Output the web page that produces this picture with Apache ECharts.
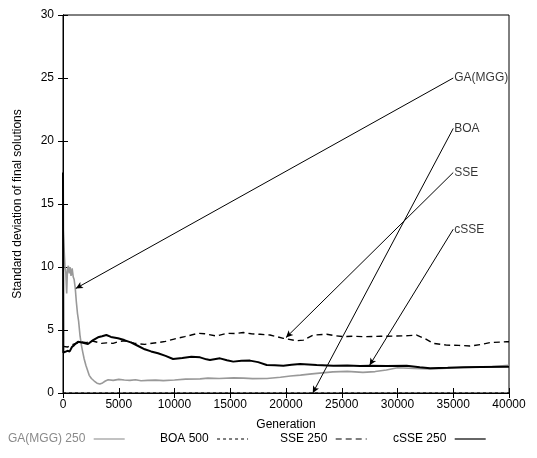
<!DOCTYPE html>
<html>
<head>
<meta charset="utf-8">
<script src="https://cdn.jsdelivr.net/npm/echarts@6/dist/echarts.min.js"></script>
<style>
html, body { margin: 0; padding: 0; background: #fff; }
#chart { width: 537px; height: 458px; }
</style>
</head>
<body>
<div id="chart"></div>
<script>
var seriesNames = ['GA(MGG) 250', 'BOA 500', 'SSE 250', 'cSSE 250'];

// [generation, std. deviation]
var gaData = [[0,13.3],[60,12.2],[120,11.0],[180,10.0],[250,9.6],[330,7.9],[400,9.8],[480,10.1],[560,9.5],[630,10.0],[720,9.3],[820,9.9],[920,9.2],[1000,9.0],
  [1100,8.3],[1200,7.2],[1300,6.3],[1400,5.7],[1520,4.6],[1650,3.8],[1780,3.2],[1900,2.7],[2050,2.2],[2200,1.8],[2350,1.4],[2550,1.15],[2800,0.95],
  [3050,0.78],[3300,0.72],[3550,0.8],[3800,0.95],[4050,1.05],[4500,1.0],[5000,1.08],[5500,1.03],[6000,1.0],[6500,1.05],[7000,0.97],[7600,1.0],
  [8300,1.02],[9000,0.98],[10000,1.03],[11000,1.1],[12300,1.12],[13000,1.18],[14000,1.15],[15300,1.2],[16200,1.18],[17000,1.14],[18300,1.15],
  [19500,1.25],[20400,1.35],[21300,1.42],[22100,1.5],[23000,1.58],[24200,1.68],[25500,1.72],[26900,1.64],[28000,1.7],[29000,1.83],[30000,2.0],
  [31500,1.95],[32900,1.9],[34000,1.95],[35300,2.0],[37000,2.05],[38500,2.1],[40000,2.2]];

var boaData = [[0,0],[10000,0],[20000,0],[30000,0],[40000,0]];

var sseData = [[0,3.7],[400,3.65],[750,3.8],[1200,3.95],[1645,4.07],[2100,4.0],[2540,4.15],[3000,4.05],[3440,3.94],[3900,3.98],[4490,3.94],
  [4930,4.07],[5530,4.15],[6000,4.05],[6430,3.94],[7330,3.86],[8000,3.95],[8520,4.0],[9200,4.1],[9870,4.26],[10910,4.47],[11500,4.6],
  [12110,4.74],[12700,4.7],[13780,4.52],[14680,4.74],[15400,4.72],[16170,4.8],[16900,4.7],[17670,4.66],[18570,4.6],[19760,4.34],
  [20960,4.15],[21560,4.2],[22450,4.6],[23650,4.66],[24400,4.55],[25140,4.47],[26000,4.5],[26930,4.47],[28500,4.5],[29930,4.52],
  [31000,4.55],[31720,4.6],[32500,4.3],[33210,3.94],[34400,3.8],[35500,3.78],[36500,3.73],[37500,3.85],[38300,4.0],[39800,4.07],[40000,4.07]];

var csseData = [[0,17.5],[30,3.2],[200,3.1],[400,3.35],[600,3.3],[800,3.65],[1000,3.8],[1345,4.07],[1700,4.0],[2240,3.89],[2700,4.2],
  [3140,4.42],[3500,4.5],[3890,4.6],[4300,4.45],[4930,4.34],[5500,4.2],[6130,4.0],[6700,3.75],[7330,3.47],[7900,3.3],[8520,3.15],
  [9200,2.95],[9870,2.7],[10700,2.78],[11510,2.88],[12290,2.83],[12860,2.67],[13180,2.62],[14080,2.75],[14700,2.6],[15270,2.49],
  [16000,2.55],[16770,2.57],[17500,2.45],[18270,2.22],[19000,2.2],[19760,2.17],[20500,2.25],[21260,2.3],[22750,2.22],[24240,2.17],
  [25500,2.18],[26640,2.14],[27530,2.17],[29000,2.15],[30820,2.17],[32000,2.05],[32920,1.96],[34500,2.0],[35900,2.04],[37500,2.06],[40000,2.09]];

// annotation labels and arrows: [label x, label y] -> [target x, target y]
var annoLabels = ['GA(MGG)', 'BOA', 'SSE', 'cSSE'];
var annoFrom = [[35000,25],[35000,21],[35000,17.5],[35000,13]];
var annoTo = [[1150,8.3],[22400,0],[20000,4.4],[27500,2.2]];

var xTicks = { min: 0, max: 40000, interval: 5000 };
var yTicks = { min: 0, max: 30, interval: 5 };

var font = "'Liberation Sans', Arial, Helvetica, sans-serif";
var chart = echarts.init(document.getElementById('chart'));

function legendFor(name, left, textColor) {
    return {
        data: [name],
        left: left,
        top: 433,
        padding: 0,
        align: 'right',
        itemWidth: 31,
        itemHeight: 10,
        itemStyle: { opacity: 0 },
        lineStyle: { width: 1.2 },
        textStyle: { color: textColor, fontSize: 12, fontFamily: font },
        formatter: function (n) { return n + ' '; },
        selectedMode: false
    };
}

var arrowData = annoFrom.map(function (p, i) {
    return [{ coord: p }, { coord: annoTo[i] }];
});
var labelData = annoFrom.map(function (p, i) {
    return { value: p, name: annoLabels[i] };
});

chart.setOption({
    animation: false,
    legend: [
        legendFor(seriesNames[0], 8, '#8a8a8a'),
        legendFor(seriesNames[1], 160, '#000'),
        legendFor(seriesNames[2], 280, '#000'),
        legendFor(seriesNames[3], 393, '#000')
    ],
    grid: { left: 63, right: 28, top: 15, bottom: 65, show: true, borderColor: '#000', borderWidth: 1 },
    xAxis: [{
        type: 'value', min: xTicks.min, max: xTicks.max, interval: xTicks.interval,
        name: 'Generation', nameLocation: 'middle', nameGap: 26,
        nameTextStyle: { color: '#000', fontSize: 12, fontFamily: font },
        axisLine: { lineStyle: { color: '#000' } },
        axisTick: { inside: true, length: 5, lineStyle: { color: '#000' } },
        axisLabel: { color: '#000', fontSize: 12, fontFamily: font, margin: 6,
            formatter: function (v) { return String(v); } },
        splitLine: { show: false }
    }, {
        type: 'value', position: 'top', min: xTicks.min, max: xTicks.max, interval: xTicks.interval,
        axisLine: { lineStyle: { color: '#000' } },
        axisTick: { inside: true, length: 5, lineStyle: { color: '#000' } },
        axisLabel: { show: false }, splitLine: { show: false }
    }],
    yAxis: [{
        type: 'value', min: yTicks.min, max: yTicks.max, interval: yTicks.interval,
        name: 'Standard deviation of final solutions', nameLocation: 'middle', nameGap: 39,
        nameTextStyle: { color: '#000', fontSize: 12, fontFamily: font },
        axisLine: { show: true, lineStyle: { color: '#000' } },
        axisTick: { show: true, inside: true, length: 5, lineStyle: { color: '#000' } },
        axisLabel: { color: '#000', fontSize: 12, fontFamily: font, margin: 9 },
        splitLine: { show: false }
    }, {
        type: 'value', position: 'right', min: yTicks.min, max: yTicks.max, interval: yTicks.interval,
        axisLine: { show: true, lineStyle: { color: '#000' } },
        axisTick: { show: true, inside: true, length: 5, lineStyle: { color: '#000' } },
        axisLabel: { show: false }, splitLine: { show: false }
    }],
    series: [
        {
            name: seriesNames[0], type: 'line', data: gaData, symbol: 'none',
            lineStyle: { color: '#999', width: 1.6 }, itemStyle: { color: '#999' }, z: 2
        },
        {
            name: seriesNames[1], type: 'line', data: boaData, symbol: 'none',
            lineStyle: { color: '#000', width: 1.2, type: [3, 3] }, itemStyle: { color: '#000' }, z: 3
        },
        {
            name: seriesNames[2], type: 'line', data: sseData, symbol: 'none',
            lineStyle: { color: '#000', width: 1.4, type: [6, 4] }, itemStyle: { color: '#000' }, z: 3
        },
        {
            name: seriesNames[3], type: 'line', data: csseData, symbol: 'none',
            lineStyle: { color: '#000', width: 2 }, itemStyle: { color: '#000' }, z: 4
        },
        {
            name: 'annotations', type: 'scatter', data: labelData, symbolSize: 0,
            label: {
                show: true, position: 'right', distance: 1, formatter: '{b}',
                color: '#000', fontSize: 12, fontFamily: font
            },
            markLine: {
                silent: true, symbol: ['none', 'arrow'], symbolSize: [5, 7],
                label: { show: false },
                lineStyle: { color: '#000', width: 1, type: 'solid' },
                data: arrowData
            },
            z: 5
        }
    ]
});
</script>
</body>
</html>
